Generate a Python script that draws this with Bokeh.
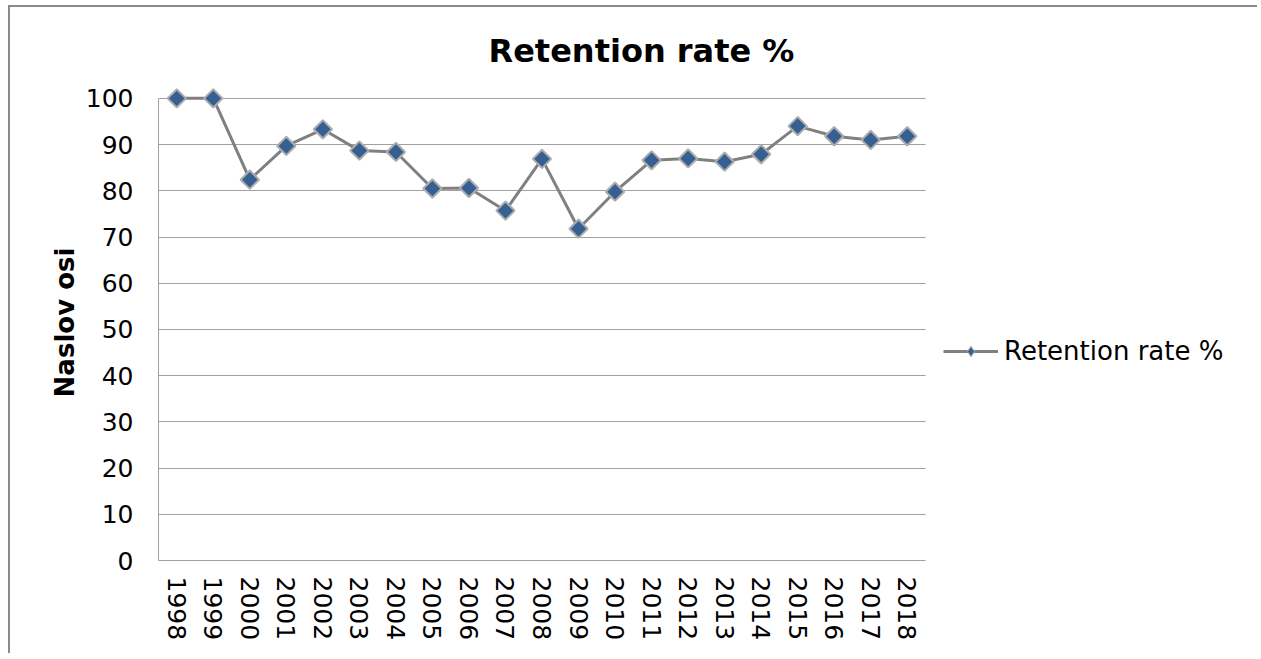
import numpy as np
from bokeh.plotting import figure
from bokeh.models import ColumnDataSource, Legend, LegendItem, Title, FixedTicker
from bokeh.embed import file_html
from bokeh.resources import INLINE

years = [str(y) for y in range(1998, 2019)]
retention = [100, 100, 82.4, 89.7, 93.3, 88.7, 88.4, 80.5, 80.6, 75.7, 86.9,
             71.8, 79.8, 86.6, 87.0, 86.3, 87.9, 94.0, 91.8, 91.0, 91.8]
y_ticks = [0, 10, 20, 30, 40, 50, 60, 70, 80, 90, 100]

TITLE = "Retention rate %"
Y_LABEL = "Naslov osi"
SERIES = "Retention rate %"

idx = list(range(len(years)))
src = ColumnDataSource(dict(i=idx, val=retention))

OX, OY = 10, 7
W, H = 1249, 648
FRAME_L, FRAME_T, FRAME_B = 158, 84, 560
PLOT_R = 925                      # right edge of the category area
FRAME_R = OX + W                  # frame reaches the right edge (room for legend)
px_per_cat = (PLOT_R - FRAME_L) / len(years)
x_start = -0.5
x_cat_end = len(years) - 0.5
x_end = x_start + (FRAME_R - FRAME_L) / px_per_cat

p = figure(x_range=(x_start, x_end), y_range=(0, 103),
           width=W, height=H, output_backend="svg", toolbar_location=None,
           min_border_left=FRAME_L - OX, min_border_right=0,
           min_border_top=FRAME_T - OY, min_border_bottom=H - (FRAME_B - OY))
p.styles = {"position": "relative", "left": "8px", "top": "5px",
            "overflow": "hidden", "outline": "none", "box-shadow": "none",
            "border-top": "2px solid #8a8a8a", "border-left": "2px solid #8a8a8a",
            "border-right": "0px none white", "border-bottom": "0px none white"}
p.outline_line_color = None
p.background_fill_color = "white"
p.border_fill_color = "white"

font = "DejaVu Sans"
p.xgrid.grid_line_color = None
p.yaxis.ticker = y_ticks
p.yaxis.bounds = (0, 100)
grid_ok = True
try:
    p.ygrid.cross_bounds = (x_start, x_cat_end)
    p.ygrid.grid_line_color = "#a0a0a0"
    p.ygrid.grid_line_width = 1
except Exception:
    grid_ok = False
    p.ygrid.grid_line_color = None
if not grid_ok:
    p.segment(x0=[x_start] * len(y_ticks), x1=[x_cat_end] * len(y_ticks),
              y0=y_ticks, y1=y_ticks, line_color="#a0a0a0", line_width=1)

p.xaxis.ticker = FixedTicker(ticks=idx)
p.xaxis.major_label_overrides = {i: y for i, y in zip(idx, years)}
p.xaxis.bounds = (x_start, x_cat_end)
for ax in (p.xaxis, p.yaxis):
    ax.axis_line_color = "#a0a0a0"
    ax.axis_line_width = 1
    ax.major_tick_line_color = None
    ax.minor_tick_line_color = None
    ax.major_label_text_font = font
    ax.major_label_text_font_size = "25px"
    ax.major_label_text_color = "black"
p.yaxis.major_label_standoff = 19
p.xaxis.major_label_standoff = 10
p.xaxis.major_label_orientation = "vertical"
p.yaxis.axis_label = Y_LABEL
p.yaxis.axis_label_text_font = font
p.yaxis.axis_label_text_font_style = "bold"
p.yaxis.axis_label_text_font_size = "26px"
p.yaxis.axis_label_text_color = "black"
p.yaxis.axis_label_standoff = 3

# legend diamond glyph, hidden under the data markers
leg_mk = p.scatter("i", "val", source=src, marker="diamond", size=14,
                   fill_color="#366092", line_color="#adadad", line_width=1)
ln = p.line("i", "val", source=src, line_color="#808080", line_width=3)
mk = p.scatter("i", "val", source=src, marker="square", angle=np.pi / 4,
               size=13, fill_color="#366092", line_color="#adadad", line_width=2)

legend = Legend(items=[LegendItem(label=SERIES, renderers=[ln, leg_mk])],
                location=(943 - FRAME_L, FRAME_B - 366), padding=0, margin=0,
                border_line_color=None, background_fill_alpha=0,
                glyph_width=55, glyph_height=26, label_standoff=6,
                label_text_font=font, label_text_font_size="26px",
                label_text_color="black")
p.add_layout(legend, "center")

title = Title(text=TITLE, align="left", offset=330, text_font=font,
              text_font_style="bold", text_font_size="32px", text_color="black",
              standoff=29)
p.add_layout(title, "above")

open("out.html", "w").write(file_html(p, INLINE))
